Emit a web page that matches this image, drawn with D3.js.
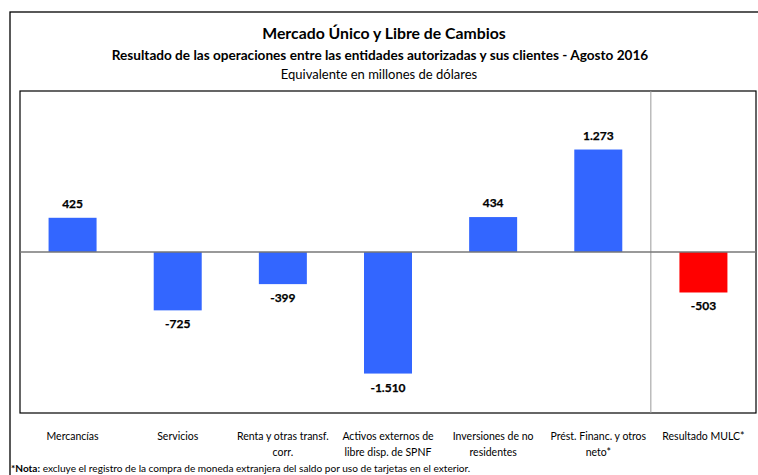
<!DOCTYPE html>
<html>
<head>
<meta charset="utf-8">
<script src="https://cdn.jsdelivr.net/npm/d3@7.9.0/dist/d3.min.js"></script>
<style>
  body { margin: 0; background: #fff; }
  svg { display: block; font-family: Lato, 'Open Sans', sans-serif; }
</style>
</head>
<body>
<div id="chart"></div>
<script>
const categories = [
  ['Mercancías'],
  ['Servicios'],
  ['Renta y otras transf.', 'corr.'],
  ['Activos externos de', 'libre disp. de SPNF'],
  ['Inversiones de no', 'residentes'],
  ['Prést. Financ. y otros', 'neto*'],
  ['Resultado MULC*']
];
const values = [425, -725, -399, -1510, 434, 1273, -503];
const valueLabels = ['425', '-725', '-399', '-1.510', '434', '1.273', '-503'];
const barColors = ['#3366ff', '#3366ff', '#3366ff', '#3366ff', '#3366ff', '#3366ff', '#ff0000'];
const title = 'Mercado Único y Libre de Cambios';
const subtitle = 'Resultado de las operaciones entre las entidades autorizadas y sus clientes - Agosto 2016';
const unitLine = 'Equivalente en millones de dólares';

const width = 758;
const height = 475;
const plot = { left: 20, right: 756, top: 91, bottom: 413 };

const svg = d3.select('#chart').append('svg')
  .attr('width', width).attr('height', height);

// outer frame
svg.append('rect')
  .attr('x', 10).attr('y', 12)
  .attr('width', 760).attr('height', 500)
  .attr('fill', 'none').attr('stroke', '#000').attr('stroke-width', 1.3);

svg.append('text').attr('x', 384).attr('y', 39)
  .attr('text-anchor', 'middle').attr('font-size', 15.8).attr('font-weight', 'bold')
  .text(title);
svg.append('text').attr('x', 380).attr('y', 60)
  .attr('text-anchor', 'middle').attr('font-size', 13.6).attr('font-weight', 'bold')
  .text(subtitle);
svg.append('text').attr('x', 379).attr('y', 79)
  .attr('text-anchor', 'middle').attr('font-size', 13)
  .text(unitLine);

const x = d3.scaleBand()
  .domain(d3.range(categories.length))
  .range([plot.left, plot.right]);
const xCenter = i => x(i) + x.bandwidth() / 2;

const y = d3.scaleLinear().domain([-2000, 2000]).range([plot.bottom, plot.top]);

// plot frame
svg.append('rect')
  .attr('x', plot.left).attr('y', plot.top)
  .attr('width', plot.right - plot.left).attr('height', plot.bottom - plot.top)
  .attr('fill', 'none').attr('stroke', '#000').attr('stroke-width', 1.2);

// separator before result
svg.append('line')
  .attr('x1', x(6)).attr('x2', x(6))
  .attr('y1', plot.top).attr('y2', plot.bottom)
  .attr('stroke', '#999').attr('stroke-width', 1);

const barW = 48;
svg.append('g').selectAll('rect').data(values).join('rect')
  .attr('x', (d, i) => xCenter(i) - barW / 2)
  .attr('width', barW)
  .attr('y', d => y(Math.max(0, d)))
  .attr('height', d => Math.abs(y(d) - y(0)))
  .attr('fill', (d, i) => barColors[i]);

// zero line
svg.append('line')
  .attr('x1', plot.left).attr('x2', plot.right)
  .attr('y1', y(0)).attr('y2', y(0))
  .attr('stroke', '#777').attr('stroke-width', 1.5);

svg.append('g').selectAll('text').data(values).join('text')
  .attr('x', (d, i) => xCenter(i))
  .attr('y', d => d >= 0 ? y(d) - 10 : y(d) + 18)
  .attr('text-anchor', 'middle')
  .attr('font-size', 12).attr('font-weight', 'bold')
  .attr('stroke', '#000').attr('stroke-width', 0.25)
  .text((d, i) => valueLabels[i]);

const cat = svg.append('g').selectAll('text').data(categories).join('text')
  .attr('x', (d, i) => xCenter(i))
  .attr('y', 440)
  .attr('text-anchor', 'middle')
  .attr('font-size', 10.5);
cat.selectAll('tspan').data(d => d).join('tspan')
  .attr('x', function () { return d3.select(this.parentNode).attr('x'); })
  .attr('dy', (d, j) => j === 0 ? 0 : 16)
  .text(d => d);

const note = svg.append('text').attr('x', 11).attr('y', 472).attr('font-size', 10.1);
note.append('tspan').attr('font-weight', 'bold').text('*Nota:');
note.append('tspan').text(' excluye el registro de la compra de moneda extranjera del saldo por uso de tarjetas en el exterior.');
</script>
</body>
</html>
